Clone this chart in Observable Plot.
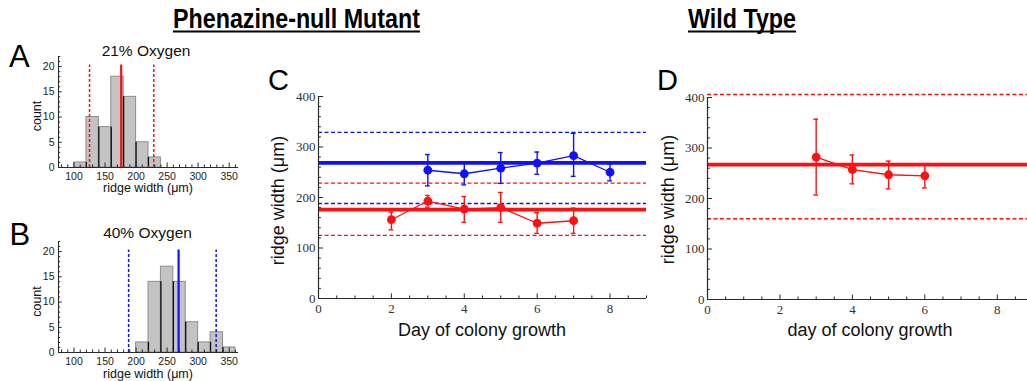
<!DOCTYPE html>
<html><head><meta charset="utf-8">
<script src="https://cdn.jsdelivr.net/npm/d3@7"></script>
<script src="https://cdn.jsdelivr.net/npm/@observablehq/plot@0.6"></script>
<style>
html,body{margin:0;padding:0;background:#fff;overflow:hidden;}
#root{position:relative;width:1027px;height:381px;overflow:hidden;}
.panel{position:absolute;overflow:visible;}
.panel svg{max-width:none !important;display:block;}
.panel.serif svg text{font-family:'Liberation Serif','DejaVu Serif','Times New Roman',serif !important;font-size:13px !important;fill:#333;}
.panel.sans svg text{font-family:'Liberation Sans',Arial,sans-serif !important;font-size:10.5px !important;fill:#222;}
#overlay{position:absolute;left:0;top:0;pointer-events:none;}
</style></head><body><div id="root"></div>
<script>
// ---------- data ----------
const binWidth = 20;
const binStartA = [100,120,140,160,180,200,220];
const countA    = [1,10,8,18,14,5,2];
const binStartB = [200,220,240,260,280,300,320,340];
const countB    = [2,14,17,14,6,2,4,1];
const meanRed = 176, sdLinesRed = [125, 228.5];
const meanBlue = 268.5, sdLinesBlue = [188, 329];
const histXTicks = [100,150,200,250,300,350];
const histYTicks = [0,5,10,15,20];

const mutantRedDays  = [2,3,4,5,6,7];
const mutantRedMean  = [156,193,177,180,149,154];
const mutantRedLow   = [136,181,151,151,129,129];
const mutantRedHigh  = [171,204,202,210,170,179];
const mutantBlueDays = [3,4,5,6,7,8];
const mutantBlueMean = [254,247,258,268,283,250];
const mutantBlueLow  = [223,225,228,246,242,233];
const mutantBlueHigh = [285,269,289,290,327,266];
const wtDays = [3,4,5,6];
const wtMean = [282,257,247,245];
const wtLow  = [207,229,219,221];
const wtHigh = [357,286,274,269];
const wtOverallMean = 267, wtSdLines = [160, 406];
const dayTicks = [0,2,4,6,8];
const widthTicks = [0,100,200,300,400];

// ---------- styles ----------
const RED = "#ff1010", BLUE = "#1010ff", AXIS = "#2a2a2a";
const sans = "'Liberation Sans', Arial, Helvetica, sans-serif";
const serif = "'Liberation Serif', 'Times New Roman', serif";
const root = document.getElementById("root");

function place(svg, left, top, w, h, cls) {
  const d = document.createElement("div");
  d.className = "panel " + cls;
  d.style.left = left + "px"; d.style.top = top + "px";
  d.style.width = w + "px"; d.style.height = h + "px";
  d.appendChild(svg); root.appendChild(d);
}

function histogram(starts, counts, color, mean, sdLines) {
  const xd = [75, 365], yd = [0, 22];
  const bins = starts.map((s, i) => ({x1: s, x2: s + binWidth, count: counts[i]}));
  const seps = starts.slice(1).map((s, i) => ({x: s, h: Math.min(counts[i], counts[i + 1])}));
  const xMinor = d3.range(80, 361, 10).filter(v => !histXTicks.includes(v));
  const yMinor = d3.range(0, 23, 1).filter(v => !histYTicks.includes(v));
  return Plot.plot({
    width: 260, height: 200, marginLeft: 58, marginRight: 22, marginTop: 56, marginBottom: 33,
    x: {domain: xd}, y: {domain: yd},
    style: {fontFamily: sans, fontSize: "10.5px", color: "#222", background: "transparent"},
    marks: [
      Plot.rectY(bins, {x1: "x1", x2: "x2", y: "count", fill: "#c3c3c3", stroke: "#8e8e8e", strokeWidth: 1}),
      Plot.ruleX(seps, {x: "x", y1: 0, y2: "h", stroke: "#000", strokeWidth: 1.2}),
      Plot.ruleX(sdLines, {y1: 0, y2: 20.3, stroke: color, strokeWidth: 1.5, strokeDasharray: "3,2"}),
      Plot.ruleX([mean], {y1: 0, y2: 20.3, stroke: color, strokeWidth: 2.2}),
      Plot.ruleY([yd[0]], {x1: xd[0], x2: xd[1], stroke: AXIS, strokeWidth: 1.1}),
      Plot.ruleX([xd[0]], {y1: yd[0], y2: yd[1], stroke: AXIS, strokeWidth: 1.1}),
      Plot.ruleX(xMinor, {y1: 0, y2: 0.5, stroke: AXIS}),
      Plot.ruleX(histXTicks, {y1: 0, y2: 0.9, stroke: AXIS}),
      Plot.ruleY(yMinor, {x1: xd[0], x2: xd[0] + 3.5, stroke: AXIS}),
      Plot.ruleY(histYTicks, {x1: xd[0], x2: xd[0] + 6, stroke: AXIS}),
      Plot.axisX({ticks: histXTicks, tickSize: 0, tickPadding: 5, label: null}),
      Plot.axisY({ticks: histYTicks, tickSize: 0, tickPadding: 4, label: null})
    ]
  });
}

function series(days, mean, lo, hi) {
  return days.map((d, i) => ({day: d, mean: mean[i], lo: lo[i], hi: hi[i]}));
}

function timePlot(groups, opts) {
  const xd = [0, 9], yd = [0, 400];
  const xMinor = d3.range(0, 9.01, 0.5).filter(v => !dayTicks.includes(v));
  const yMinor = d3.range(0, 401, 20).filter(v => !widthTicks.includes(v));
  const marks = [];
  for (const g of groups) {
    marks.push(Plot.ruleY(g.sd, {x1: xd[0], x2: xd[1], stroke: g.color, strokeWidth: 1.4, strokeDasharray: "4,2.5"}));
  }
  for (const g of groups) {
    marks.push(Plot.ruleY([g.overall], {x1: xd[0], x2: xd[1], stroke: g.color, strokeWidth: 3.6}));
  }
  for (const g of groups) {
    const cap = 0.065;
    marks.push(
      Plot.ruleX(g.data, {x: "day", y1: "lo", y2: "hi", stroke: g.color, strokeWidth: 1.4}),
      Plot.ruleY(g.data, {y: "hi", x1: d => d.day - cap, x2: d => d.day + cap, stroke: g.color, strokeWidth: 1.4}),
      Plot.ruleY(g.data, {y: "lo", x1: d => d.day - cap, x2: d => d.day + cap, stroke: g.color, strokeWidth: 1.4}),
      Plot.line(g.data, {x: "day", y: "mean", stroke: g.color, strokeWidth: 1.3}),
      Plot.dot(g.data, {x: "day", y: "mean", r: 4.4, fill: g.color, stroke: "none"})
    );
  }
  marks.push(
    Plot.ruleY([yd[0]], {x1: xd[0], x2: xd[1], stroke: AXIS, strokeWidth: 1.2}),
    Plot.ruleX([xd[0]], {y1: yd[0], y2: yd[1], stroke: AXIS, strokeWidth: 1.2}),
    Plot.ruleX(xMinor, {y1: 0, y2: 5, stroke: AXIS}),
    Plot.ruleX(dayTicks, {y1: 0, y2: 9, stroke: AXIS}),
    Plot.ruleY(yMinor, {x1: 0, x2: 0.08, stroke: AXIS}),
    Plot.ruleY(widthTicks, {x1: 0, x2: 0.14, stroke: AXIS}),
    Plot.axisX({ticks: dayTicks, tickSize: 0, tickPadding: 5, label: null}),
    Plot.axisY({ticks: widthTicks, tickSize: 0, tickPadding: 3, label: null})
  );
  return Plot.plot({
    width: 400, height: 290,
    marginLeft: opts.ml, marginRight: opts.mr, marginTop: opts.mt, marginBottom: opts.mb,
    x: {domain: xd}, y: {domain: yd},
    style: {fontFamily: serif, fontSize: "13px", color: "#333", background: "transparent", overflow: "visible"},
    marks
  });
}

// ---------- panels ----------
place(histogram(binStartA, countA, RED, meanRed, sdLinesRed), 0, 0, 260, 200, "sans");
place(histogram(binStartB, countB, BLUE, meanBlue, sdLinesBlue), 0, 185, 260, 200, "sans");

place(timePlot([
  {data: series(mutantBlueDays, mutantBlueMean, mutantBlueLow, mutantBlueHigh), color: BLUE, overall: meanBlue, sd: sdLinesBlue},
  {data: series(mutantRedDays, mutantRedMean, mutantRedLow, mutantRedHigh), color: RED, overall: meanRed, sd: sdLinesRed}
], {ml: 58, mr: 14, mt: 36, mb: 52}), 260, 60, 400, 290, "serif");

place(timePlot([
  {data: series(wtDays, wtMean, wtLow, wtHigh), color: RED, overall: wtOverallMean, sd: wtSdLines}
], {ml: 57, mr: 17, mt: 37, mb: 51}), 650, 60, 400, 290, "serif");

// ---------- text overlay ----------
const ov = d3.select(root).append("svg").attr("id", "overlay").attr("width", 1027).attr("height", 381);
function label(t, x, y, size, o = {}) {
  const el = ov.append("text").text(t)
    .attr("x", x).attr("y", y)
    .attr("font-family", o.family || sans)
    .attr("font-size", size)
    .attr("font-weight", o.weight || "normal")
    .attr("fill", o.fill || "#111")
    .attr("text-anchor", o.anchor || "start");
  if (o.rotate) el.attr("transform", `rotate(-90 ${x} ${y})`);
  return el;
}
function title(t, cx, w) {
  label(t, cx, 28, 27, {weight: "bold", anchor: "middle", fill: "#000"})
    .attr("textLength", w).attr("lengthAdjust", "spacingAndGlyphs");
  ov.append("line").attr("x1", cx - w / 2).attr("x2", cx + w / 2).attr("y1", 31.5).attr("y2", 31.5)
    .attr("stroke", "#000").attr("stroke-width", 2);
}
title("Phenazine-null Mutant", 296.5, 247);
title("Wild Type", 742, 108);

label("A", 9, 66.5, 31, {fill: "#000"});
label("B", 9.5, 245, 31, {fill: "#000"});
label("C", 268, 89.5, 29, {fill: "#000"});
label("D", 657, 89.5, 29, {fill: "#000"});

label("21% Oxygen", 146, 56, 15.5, {anchor: "middle"});
label("40% Oxygen", 147.5, 237.5, 15.5, {anchor: "middle"});
label("ridge width (μm)", 148, 191.5, 12.5, {anchor: "middle"});
label("ridge width (μm)", 148, 377.5, 12.5, {anchor: "middle"});
label("count", 40.5, 116, 12.5, {anchor: "middle", rotate: true});
label("count", 40.5, 301.5, 12.5, {anchor: "middle", rotate: true});

label("Day of colony growth", 482, 336, 18, {anchor: "middle"});
label("ridge width (μm)", 284, 200.5, 18, {anchor: "middle", rotate: true});
label("day of colony growth", 870, 336, 18, {anchor: "middle"});
label("ridge width (μm)", 674, 199.5, 18, {anchor: "middle", rotate: true});
</script></body></html>
